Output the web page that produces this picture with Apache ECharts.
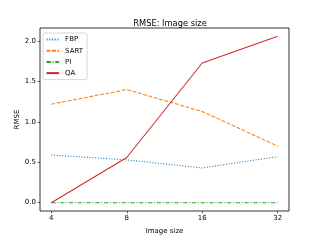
<!DOCTYPE html>
<html><head><meta charset="utf-8">
<script src="https://cdn.jsdelivr.net/npm/echarts@6/dist/echarts.min.js"></script>
<style>html,body{margin:0;padding:0;background:#fff}#c{width:320px;height:240px}</style>
</head><body><div id="c"></div>
<script>
const categories = ['4', '8', '16', '32'];
const fbp = [0.59, 0.53, 0.43, 0.57];
const sart = [1.22, 1.40, 1.13, 0.70];
const pi = [0.0, 0.0, 0.0, 0.0];
const qa = [0.0, 0.56, 1.73, 2.06];
const yTicks = [0.0, 0.5, 1.0, 1.5, 2.0];

const pairs = arr => arr.map((v, i) => [i, v]);
const font = 'DejaVu Sans';
const chart = echarts.init(document.getElementById('c'), null, {renderer: 'canvas'});
const mk = (name, data, color, type) => ({
  name, type: 'line', data: pairs(data), symbol: 'none', showSymbol: false,
  lineStyle: {color, width: 1.04, type}, itemStyle: {color}, animation: false
});
chart.setOption({
  animation: false,
  textStyle: {fontFamily: font},
  title: {text: 'RMSE: Image size', left: 165, top: 15, textAlign: 'center',
    textStyle: {fontSize: 8.3, fontWeight: 'normal', color: '#000', fontFamily: font}},
  grid: {left: 40, right: 31, top: 28, bottom: 27, show: true, borderColor: '#000', borderWidth: 0.8, backgroundColor: 'transparent'},
  legend: {
    left: 43, top: 33, orient: 'vertical', itemWidth: 12.6, itemHeight: 6, itemGap: 4.2,
    padding: [3, 4, 3, 2.5], borderColor: '#ccc', borderWidth: 0.8, borderRadius: 2, backgroundColor: 'rgba(255,255,255,0.8)',
    itemStyle: {opacity: 0},
    textStyle: {fontSize: 7, color: '#000', fontFamily: font, padding: [0, 0, 0, 1]},
    data: ['FBP', 'SART', 'PI', 'QA']
  },
  xAxis: {
    type: 'value', min: -0.15, max: 3.15, name: 'Image size', nameLocation: 'middle', nameGap: 17,
    nameMoveOverlap: false,
    nameTextStyle: {fontSize: 7, color: '#000', fontFamily: font},
    axisLine: {show: false, onZero: false}, splitLine: {show: false},
    axisTick: {show: true, length: 2.4, customValues: [0, 1, 2, 3], lineStyle: {color: '#000', width: 0.6}},
    axisLabel: {customValues: [0, 1, 2, 3], fontSize: 7, color: '#000', margin: 4, formatter: v => categories[Math.round(v)]}
  },
  yAxis: {
    type: 'value', min: -0.103, max: 2.163, name: 'RMSE', nameLocation: 'middle', nameGap: 19,
    nameMoveOverlap: false,
    nameTextStyle: {fontSize: 7, color: '#000', fontFamily: font},
    axisLine: {show: false, onZero: false}, splitLine: {show: false},
    axisTick: {show: true, length: 2.4, customValues: yTicks, lineStyle: {color: '#000', width: 0.6}},
    axisLabel: {customValues: yTicks, fontSize: 7, color: '#000', margin: 4, formatter: v => v.toFixed(1)}
  },
  series: [
    mk('FBP', fbp, '#1f77b4', [1.04, 1.7]),
    mk('SART', sart, '#ff7f0e', [3.85, 1.67]),
    mk('PI', pi, '#2ca02c', [4.4, 1.67, 1.04, 1.67]),
    mk('QA', qa, '#d62728', 'solid')
  ]
});
</script></body></html>
